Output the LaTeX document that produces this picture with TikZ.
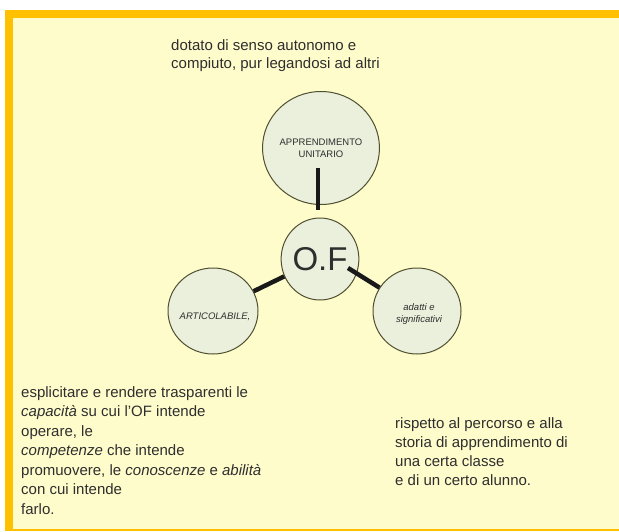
\documentclass[tikz,border=0pt]{standalone}
\usepackage{fontspec}
\setmainfont{Liberation Sans}
\usetikzlibrary{shapes.geometric}
\definecolor{bgc}{HTML}{FFFCCC}
\definecolor{orng}{HTML}{FFC000}
\definecolor{cfill}{HTML}{EAF0DC}
\definecolor{cline}{HTML}{505030}
\definecolor{txt}{HTML}{2E2E2E}
\begin{document}
\begin{tikzpicture}[x=1pt,y=-1pt,
  bubble/.style={ellipse,draw=cline,line width=1pt,fill=cfill,inner sep=0pt,align=center,text=txt},
  conn/.style={line width=4.5pt,draw=black!90},
  para/.style={anchor=north west,inner sep=0pt,align=left,text=txt},
  small/.style={font=\fontsize{9.5}{12}\selectfont,text=txt,align=center,inner sep=0pt}]
\useasboundingbox (0,0) rectangle (619,531);
\fill[white] (0,0) rectangle (619,531);
\fill[bgc] (6,10) rectangle (619,529.5);
\fill[orng] (6,10) rectangle (619,18);
\fill[orng] (5,10) rectangle (13,531);
\fill[orng] (13,529.3) rectangle (619,531);

\node[bubble,minimum width=113pt,minimum height=113pt,font=\fontsize{9.5}{12}\selectfont] (appr) at (321,148) {APPRENDIMENTO\\UNITARIO};
\node[bubble,minimum width=74pt,minimum height=82pt,font=\fontsize{33}{33}\selectfont] (of) at (320,259) {O.F};
\node[bubble,minimum width=90pt,minimum height=86pt] (art) at (213,311) {};
\node[bubble,minimum width=88pt,minimum height=86pt] (adt) at (417,311) {};
\node[small,font=\fontsize{9.5}{12}\selectfont\itshape] (artt) at (215,317) {ARTICOLABILE,};
\node[small,font=\fontsize{9.5}{12}\selectfont\itshape] (adtt) at (419,314) {adatti e\\significativi};

\coordinate (t1) at (318,168);
\coordinate (t2) at (318,210);
\coordinate (r1) at (348,268);
\draw[conn] (t1) -- (t2);
\draw[conn] (art) -- (of);
\draw[conn] (r1) -- (adt);

\node[para,font=\fontsize{15}{18}\selectfont] (top) at (171,39.5) {dotato di senso autonomo e\\compiuto, pur legandosi ad altri};
\node[para,font=\fontsize{15}{19.5}\selectfont] (left) at (21,386) {esplicitare e rendere trasparenti le\\\textit{capacità} su cui l'OF intende\\operare, le\\\textit{competenze} che intende\\promuovere, le \textit{conoscenze} e \textit{abilità}\\con cui intende\\farlo.};
\node[para,font=\fontsize{15}{19}\selectfont] (right) at (395,417) {rispetto al percorso e alla\\storia di apprendimento di\\una certa classe\\e di un certo alunno.};
\end{tikzpicture}
\end{document}
